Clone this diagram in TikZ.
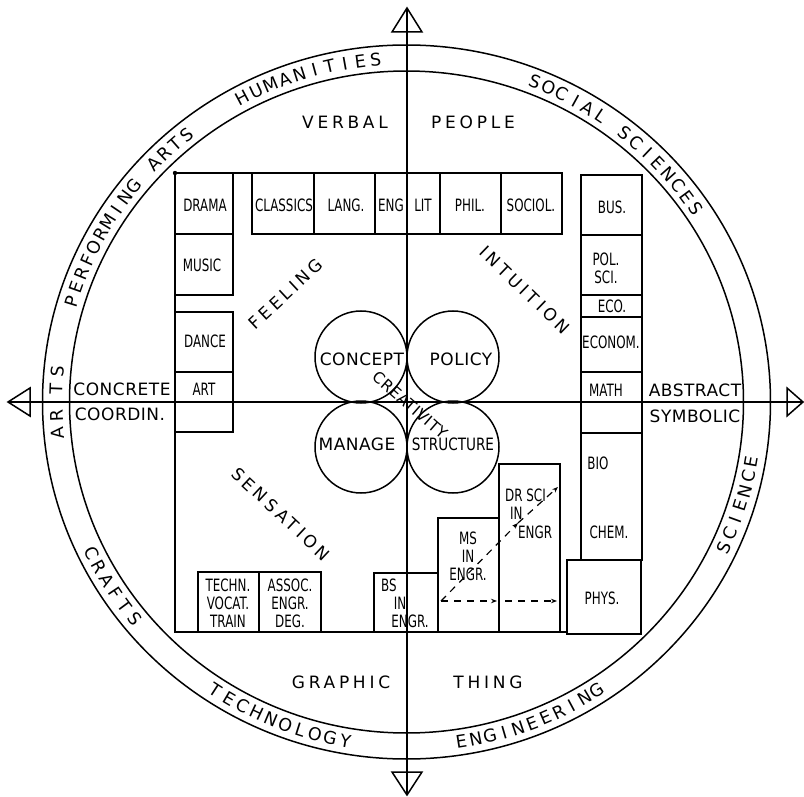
\documentclass[tikz,border=0pt]{standalone}
\usepackage{fontspec}
\newfontfamily\letterfont[LetterSpace=3]{DejaVu Sans}
\newfontfamily\widefont[LetterSpace=22]{DejaVu Sans}
\newfontfamily\narrowfont[FakeStretch=0.7]{DejaVu Sans}
\newfontfamily\structfont[FakeStretch=0.8]{DejaVu Sans}
\usetikzlibrary{arrows.meta}

\begin{document}
\begin{tikzpicture}[x=1pt,y=-1pt,
    every node/.style={inner sep=0pt},
    axis/.style={line width=1.5pt},
    frame/.style={line width=1.5pt},
    boxlabel/.style={font={\narrowfont\fontsize{17}{18}\selectfont},align=center},
    bigword/.style={font={\widefont\fontsize{17}{18}\selectfont}},
    sideword/.style={font={\letterfont\fontsize{17}{18}\selectfont}},
    ringtext/.style={font={\letterfont\fontsize{17.5}{18}\selectfont}},
    dasharrow/.style={line width=1.2pt,dash pattern=on 7pt off 6pt,-{Stealth[length=6pt,width=4.5pt]}}]
  \useasboundingbox (0,0) rectangle (804,797);
  % axes with open heads
  \coordinate (north) at (407,8);
  \coordinate (south) at (407,795);
  \coordinate (west) at (8,402);
  \coordinate (east) at (803,402);
  \draw[axis] (north) -- (south);
  \draw[axis] (west) -- (east);
  \draw[axis] (north) -- (392,32) -- (422,32) -- cycle;
  \draw[axis] (south) -- (392,772) -- (422,772) -- cycle;
  \draw[axis] (west) -- (30,388) -- (30,416) -- cycle;
  \draw[axis] (east) -- (787,388) -- (787,416) -- cycle;
  % outer band
  \draw[axis] (406.5,402) ellipse [x radius=364,y radius=357];
  \draw[axis] (406.5,402) ellipse [x radius=337,y radius=331];
  \foreach \ch [count=\i from 0] in {H,U,M,A,N,I,T,I,E,S}
    \node[ringtext,rotate=28-2.55*\i] (hum\i) at ({406.5+350*cos(118-2.55*\i)},{402-344*sin(118-2.55*\i)}) {\ch};
  \foreach \ch [count=\i from 0] in {S,O,C,I,A,L,{},S,C,I,E,N,C,E,S}
    \node[ringtext,rotate=-21.5-2.45*\i] (soc\i) at ({406.5+350*cos(68.5-2.45*\i)},{402-344*sin(68.5-2.45*\i)}) {\ch};
  \foreach \ch [count=\i from 0] in {P,E,R,F,O,R,M,I,N,G,{},A,R,T,S}
    \node[ringtext,rotate=73-2.43*\i] (perf\i) at ({406.5+350*cos(163-2.43*\i)},{402-344*sin(163-2.43*\i)}) {\ch};
  \foreach \ch/\a in {A/185.2,R/182.2,T/177.8,S/174.9}
    \node[ringtext,rotate=\a-90] (arts\ch) at ({406.5+350*cos(\a)},{402-344*sin(\a)}) {\ch};
  \foreach \ch [count=\i from 0] in {C,R,A,F,T,S}
    \node[ringtext,rotate=-64+2.6*\i] (craft\i) at ({406.5+350*cos(-154+2.6*\i)},{402-344*sin(-154+2.6*\i)}) {\ch};
  \foreach \ch [count=\i from 0] in {T,E,C,H,N,O,L,O,G,Y}
    \node[ringtext,rotate=-33+2.55*\i] (tech\i) at ({406.5+350*cos(-123+2.55*\i)},{402-344*sin(-123+2.55*\i)}) {\ch};
  \foreach \ch [count=\i from 0] in {E,N,G,I,N,E,E,R,I,N,G}
    \node[ringtext,rotate=9+2.4*\i] (engin\i) at ({406.5+350*cos(-81+2.4*\i)},{402-344*sin(-81+2.4*\i)}) {\ch};
  \foreach \ch [count=\i from 0] in {S,C,I,E,N,C,E}
    \node[ringtext,rotate=65+2.5*\i] (sci\i) at ({406.5+350*cos(-25+2.5*\i)},{402-344*sin(-25+2.5*\i)}) {\ch};
  % frame
  \draw[frame] (562,173) -- (175,173) -- (175,632) -- (567,632);
  \fill (175,173) circle (2.2);
  \foreach \xa/\ya/\xb/\yb in {175/173/233/234,175/234/233/295,175/312/233/372,175/372/233/432,
      252/173/314/234,314/173/375/234,375/173/407/234,407/173/440/234,440/173/501/234,501/173/562/234,
      581/175/642/235,581/235/642/295,581/295/642/317,581/317/642/372,581/372/642/433,581/433/642/560,567/560/641/634,
      198/572/259/632,259/572/321/632,374/573/438/632,438/518/499/632,499/464/560/632}
    \draw[frame] (\xa,\ya) rectangle (\xb,\yb);
  % subjects
  \node[boxlabel] (drama) at (205,205) {DRAMA};
  \node[boxlabel] (music) at (202,265) {MUSIC};
  \node[boxlabel] (dance) at (205,341) {DANCE};
  \node[boxlabel] (art) at (204,389) {ART};
  \node[boxlabel] (classics) at (284,205) {CLASSICS};
  \node[boxlabel] (lang) at (346,205) {LANG.};
  \node[boxlabel] (eng) at (391,205) {ENG};
  \node[boxlabel] (lit) at (423,205) {LIT};
  \node[boxlabel] (phil) at (470,205) {PHIL.};
  \node[boxlabel] (sociol) at (531,205) {SOCIOL.};
  \node[boxlabel] (bus) at (612,207) {BUS.};
  \node[boxlabel] (polsci) at (606,268) {POL.\\SCI.};
  \node[boxlabel] (eco) at (612,306) {ECO.};
  \node[boxlabel] (econom) at (611,342) {ECONOM.};
  \node[boxlabel] (math) at (606,390) {MATH};
  \node[boxlabel] (bio) at (598,463) {BIO};
  \node[boxlabel] (chem) at (609,532) {CHEM.};
  \node[boxlabel] (phys) at (602,598) {PHYS.};
  \node[boxlabel] (techn) at (228,603) {TECHN.\\VOCAT.\\TRAIN};
  \node[boxlabel] (assoc) at (290,603) {ASSOC.\\ENGR.\\DEG.};
  \node[boxlabel] (bs) at (389,585) {BS};
  \node[boxlabel] (bsin) at (400,603) {IN};
  \node[boxlabel] (bsengr) at (410,621) {ENGR.};
  \node[boxlabel] (ms) at (468,556) {MS\\IN\\ENGR.};
  \node[boxlabel,anchor=west] (drsci) at (505,495) {DR SCI};
  \node[boxlabel,anchor=west] (drin) at (510,513) {IN};
  \node[boxlabel,anchor=west] (drengr) at (518,532) {ENGR};
  % degree steps
  \coordinate (msfoot) at (441,601);
  \coordinate (mshead) at (497,601);
  \coordinate (drfoot) at (505,601);
  \coordinate (drhead) at (557,601);
  \coordinate (diagmid) at (518,523);
  \coordinate (diagend) at (558,487);
  \draw[dasharrow] (msfoot) -- (mshead);
  \draw[dasharrow] (drfoot) -- (drhead);
  \draw[dasharrow] (msfoot) -- (diagmid);
  \draw[dasharrow] (diagmid) -- (diagend);
  % quadrant words
  \node[bigword] (verbal) at (345,122) {VERBAL};
  \node[bigword] (people) at (473,122) {PEOPLE};
  \node[bigword] (graphic) at (341,682) {GRAPHIC};
  \node[bigword] (thing) at (488,682) {THING};
  \node[sideword] (concrete) at (122,389) {CONCRETE};
  \node[sideword] (coordin) at (120,414) {COORDIN.};
  \node[sideword] (abstract) at (695,390) {ABSTRACT};
  \node[sideword] (symbolic) at (695,416) {SYMBOLIC};
  \node[bigword,rotate=43] (feeling) at (286,294) {FEELING};
  \node[bigword,rotate=-44] (intuition) at (525,290) {INTUITION};
  \node[bigword,rotate=-43] (sensation) at (281,514) {SENSATION};
  % four leaves
  \draw[frame] (361,357) circle (46) (453,357) circle (46) (361,447) circle (46) (453,447) circle (46);
  \node[sideword] (concept) at (362,359) {CONCEPT};
  \node[sideword] (policy) at (461,359) {POLICY};
  \node[sideword] (manage) at (357,444) {MANAGE};
  \node[font={\structfont\fontsize{17}{18}\selectfont}] (structure) at (453,444) {STRUCTURE};
  \node[font={\letterfont\fontsize{15.5}{16}\selectfont},rotate=-41] (creativity) at (410,405) {CREATIVITY};
\end{tikzpicture}
\end{document}
